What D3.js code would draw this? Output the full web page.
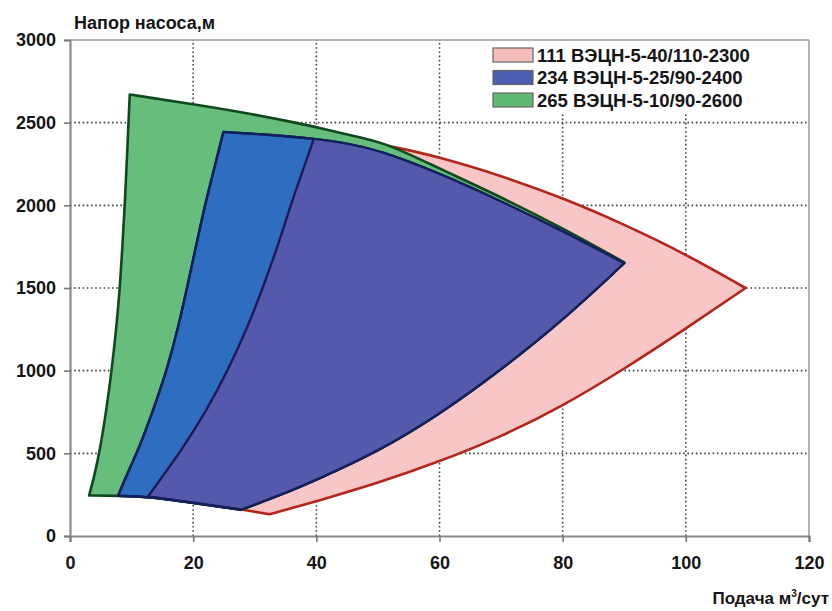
<!DOCTYPE html>
<html><head><meta charset="utf-8">
<script src="https://cdn.jsdelivr.net/npm/d3@7/dist/d3.min.js"></script>
<style>
html,body{margin:0;padding:0;background:#fff;}
text{font-family:"Liberation Sans",Arial,sans-serif;font-weight:bold;fill:#151515;}
</style></head>
<body>
<svg id="chart" width="832" height="611"></svg>
<script>
// ---- data ----
const xTicks = [0, 20, 40, 60, 80, 100, 120];
const yTicks = [0, 500, 1000, 1500, 2000, 2500, 3000];
const seriesNames = ["111 ВЭЦН-5-40/110-2300", "234 ВЭЦН-5-25/90-2400", "265 ВЭЦН-5-10/90-2600"];
const yTitle = "Напор насоса,м";
const xTitle = "Подача м";
const xTitleSup = "3";
const xTitleEnd = "/сут";

// 111 ВЭЦН-5-40/110-2300 boundary (flow, head)
const s111Left  = [[12.7,240],[15.2,370],[18.1,520],[22.2,760],[25.6,1000],[28.7,1250],[31.3,1500],[33.8,1760],[36.0,2020],[37.9,2220],[39.7,2414]];
const s111Top   = [[39.7,2414],[45,2398],[52,2360],[60,2292],[70,2180],[80,2045],[90,1885],[100,1705],[109.7,1500]];
const s111Lower = [[109.7,1500],[100,1254],[90,1010],[80,785],[70,600],[60,450],[50,320],[40,210],[36,168],[32.4,132]];
const s111Bottom= [[32.4,132],[27.8,160],[12.7,240]];

// 234 ВЭЦН-5-25/90-2400
const s234Left  = [[7.8,243],[9.2,370],[11.1,520],[13.5,760],[15.7,1000],[17.5,1250],[19.0,1500],[20.5,1760],[21.9,2000],[23.4,2220],[24.9,2444]];
const s234Top   = [[24.9,2444],[32,2428],[39.7,2404],[45,2375],[50,2335],[60,2195],[70,2025],[80,1845],[90,1650]];
const s234Lower = [[90,1650],[80,1304],[70,1005],[60,735],[50,510],[40,340],[35,260],[27.8,160]];
const s234Bottom= [[27.8,160],[20,200],[12.7,238],[7.8,243]];

// 265 ВЭЦН-5-10/90-2600
const s265Left  = [[3.1,245],[4,370],[4.86,520],[5.9,760],[6.76,1000],[7.5,1250],[8.1,1500],[8.5,1750],[8.9,2000],[9.3,2330],[9.7,2670]];
const s265Top   = [[9.7,2670],[20,2612],[30,2550],[37.3,2495],[40,2472],[48,2404],[52,2365],[60,2222],[70,2050],[80,1862],[90,1655]];
const s265Lower = [[90,1655],[80,1304],[70,1005],[60,735],[50,510],[40,340],[35,260],[27.8,158]];
const s265Bottom= [[27.8,158],[20,200],[12.7,238],[7.8,243],[3.1,245]];

// ---- layout ----
const svg = d3.select("#chart");
const x = d3.scaleLinear().domain([0,120]).range([70,809]);
const y = d3.scaleLinear().domain([0,3000]).range([536,40]);

const curved = d3.line().x(d=>x(d[0])).y(d=>y(d[1])).curve(d3.curveBasis);
const straight = d3.line().x(d=>x(d[0])).y(d=>y(d[1]));
function shape(segs){
  let p = "";
  segs.forEach((s,i)=>{
    const part = (s.length>3?curved:straight)(s);
    p += i===0 ? part : part.replace(/^M/,"L");
  });
  return p + "Z";
}
const p111 = shape([s111Left,s111Top,s111Lower,s111Bottom]);
const p234 = shape([s234Left,s234Top,s234Lower,s234Bottom]);
const p265 = shape([s265Left,s265Top,s265Lower,s265Bottom]);

// gridlines
const grid = svg.append("g");
xTicks.filter(v=>v>0 && v<120).forEach(v=>{
  grid.append("line").attr("x1",x(v)).attr("x2",x(v)).attr("y1",y(0)).attr("y2",y(3000))
    .attr("stroke","#444").attr("stroke-width",1.6).attr("stroke-dasharray","1.6,2.6");
});
yTicks.filter(v=>v>0 && v<3000).forEach(v=>{
  grid.append("line").attr("x1",x(0)).attr("x2",x(120)).attr("y1",y(v)).attr("y2",y(v))
    .attr("stroke","#444").attr("stroke-width",1.6).attr("stroke-dasharray","1.6,2.6");
});

// frame (top and right)
svg.append("line").attr("x1",x(0)).attr("x2",x(120)).attr("y1",y(3000)).attr("y2",y(3000)).attr("stroke","#9a9a9a").attr("stroke-width",1.5);
svg.append("line").attr("x1",x(120)).attr("x2",x(120)).attr("y1",y(3000)).attr("y2",y(0)).attr("stroke","#9a9a9a").attr("stroke-width",1.5);

// areas
const defs = svg.append("defs");
defs.append("clipPath").attr("id","clip234").append("path").attr("d",p234);

svg.append("path").attr("d",p111).attr("fill","#f8c6c6").attr("stroke","#b3261a").attr("stroke-width",2.6).attr("stroke-linejoin","round");
svg.append("path").attr("d",p265).attr("fill","#66bd7c").attr("stroke","#0f4a1e").attr("stroke-width",2.6).attr("stroke-linejoin","round");
svg.append("path").attr("d",p234).attr("fill","#2f6dc0").attr("stroke","#14205a").attr("stroke-width",2.4).attr("stroke-linejoin","round");
svg.append("path").attr("d",p111).attr("clip-path","url(#clip234)").attr("fill","#5459ab").attr("stroke","#1e1a55").attr("stroke-width",2.4).attr("stroke-linejoin","round");
svg.append("path").attr("d",p234).attr("fill","none").attr("stroke","#14205a").attr("stroke-width",2.4).attr("stroke-linejoin","round");

// axes
const yAxis = svg.append("g").attr("transform",`translate(${x(0)},0)`)
  .call(d3.axisLeft(y).tickValues(yTicks).tickSize(6).tickPadding(8).tickFormat(d3.format("d")));
const xAxis = svg.append("g").attr("transform",`translate(0,${y(0)})`)
  .call(d3.axisBottom(x).tickValues(xTicks).tickSize(6).tickPadding(14).tickFormat(d3.format("d")));
[yAxis,xAxis].forEach(a=>{
  a.select(".domain").attr("stroke","#8a8a8a").attr("stroke-width",2.2);
  a.selectAll(".tick line").attr("stroke","#777").attr("stroke-width",1.6);
  a.selectAll(".tick text").style("font-size","18px").style("font-family","'Liberation Sans',Arial,sans-serif").style("font-weight","bold").attr("fill","#151515");
});

// titles
svg.append("text").attr("x",74).attr("y",29).style("font-size","18px").text(yTitle);
const xt = svg.append("text").attr("x",829).attr("y",604).attr("text-anchor","end").style("font-size","17px");
xt.append("tspan").text(xTitle);
xt.append("tspan").attr("dy",-7).style("font-size","10px").text(xTitleSup);
xt.append("tspan").attr("dy",7).text(xTitleEnd);

// legend
const lg = svg.append("g");
lg.append("rect").attr("x",486).attr("y",43).attr("width",320).attr("height",70).attr("fill","#fff");
const legendColors = ["#f6bdbd","#4c5eb2","#5cba72"];
seriesNames.forEach((n,i)=>{
  const cy = 55 + i*22.5;
  lg.append("rect").attr("x",493).attr("y",cy-7).attr("width",40).attr("height",14)
    .attr("fill",legendColors[i]).attr("stroke","#666").attr("stroke-width",1.2);
  lg.append("text").attr("x",537).attr("y",cy+6.5).style("font-size","18.5px").text(n);
});
</script>
</body></html>
